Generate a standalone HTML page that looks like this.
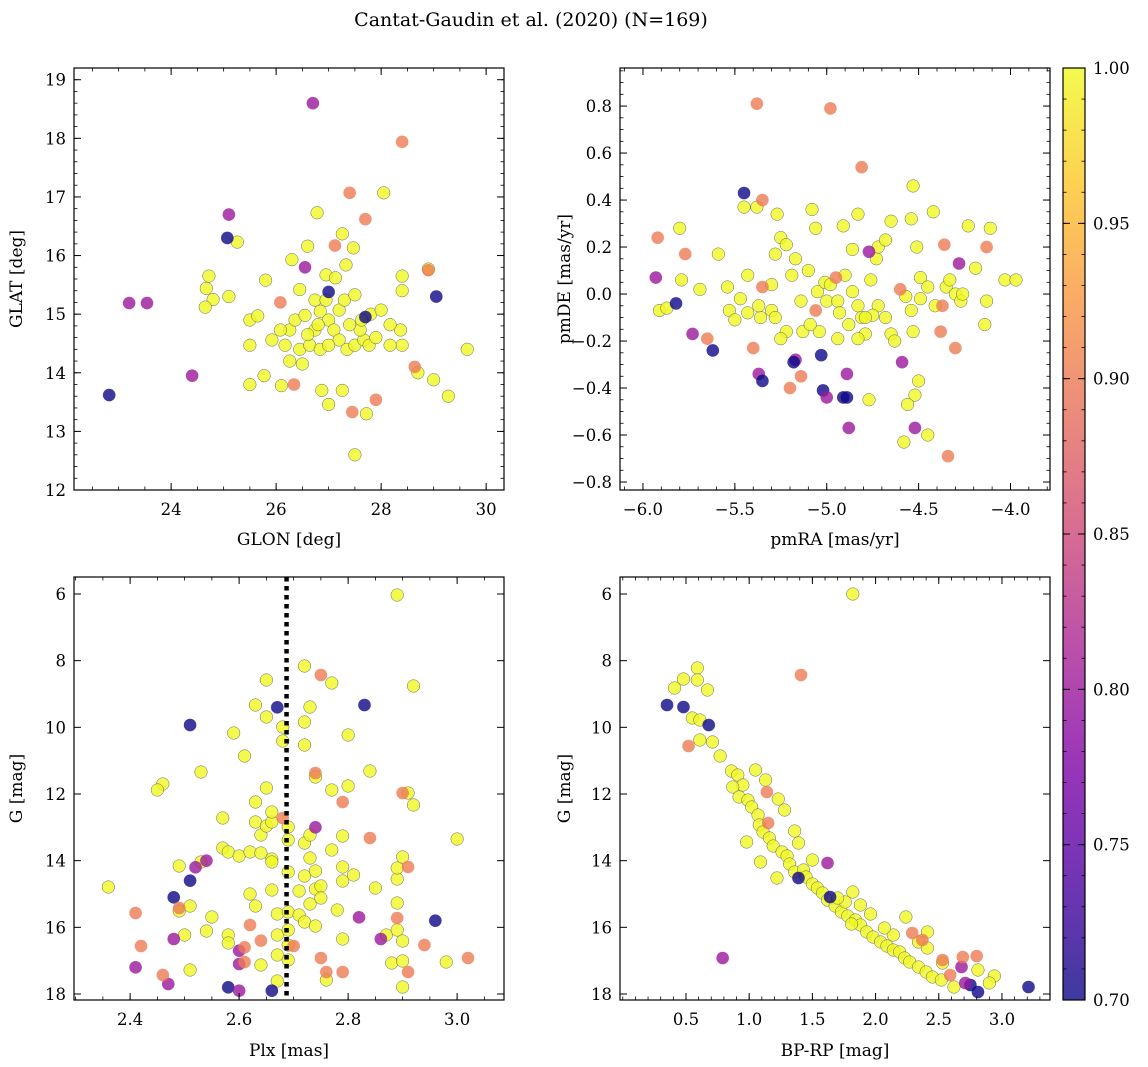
<!DOCTYPE html>
<html><head><meta charset="utf-8"><style>
body{margin:0;background:#fff;}
svg{display:block;font-family:"DejaVu Serif","Liberation Serif",serif;}
</style></head><body>
<svg id="chart" width="1148" height="1067" viewBox="0 0 1148 1067" xmlns="http://www.w3.org/2000/svg">
<defs>
<linearGradient id="plasma" x1="0" y1="1" x2="0" y2="0">
<stop offset="0" stop-color="#0d0887"/><stop offset="0.125" stop-color="#4c02a1"/><stop offset="0.25" stop-color="#7e03a8"/><stop offset="0.375" stop-color="#a92395"/><stop offset="0.5" stop-color="#cc4778"/><stop offset="0.625" stop-color="#e66c5c"/><stop offset="0.75" stop-color="#f89540"/><stop offset="0.875" stop-color="#fdc527"/><stop offset="1" stop-color="#f0f921"/>
</linearGradient>
</defs>
<text x="531" y="26" font-size="19" text-anchor="middle">Cantat-Gaudin et al. (2020) (N=169)</text>
</svg>
<script>
// Panel 1: GLON / GLAT
const glonMember=[29.64,29.28,29.0,28.7,27.5,27.72,27,27.26,26.87,26.1,25.5,25.77,25.5,25.5,25.65,25.8,25.26,24.72,24.67,24.8,25.1,24.65,26.3,26.6,26.78,28.05,28.4,28.37,28.17,27.8,28.4,28.4,28.9,27.33,27.26,27.47,26.17,26.26,26.5,26.45,26.26,26.36,26.55,26.74,26.84,27,27.1,27.2,27.35,27.5,27.67,27.77,27.6,27.4,27.2,26.95,26.74,26.64,26.84,27,26.8,26.6,27.3,27.5,27.63,28,28.17,26.45,26.08,25.92,26.95,27.13,27.9];
const glatMember=[14.4,13.6,13.88,14.0,12.6,13.3,13.46,13.7,13.7,13.78,13.8,13.95,14.47,14.9,14.97,15.58,16.23,15.65,15.44,15.25,15.3,15.12,15.93,16.16,16.73,17.07,14.47,14.73,14.82,15.0,15.4,15.65,15.77,15.84,16.37,16.13,14.47,14.2,14.15,14.4,14.73,14.9,14.98,15.24,15.05,14.9,14.73,14.56,14.4,14.47,14.56,14.47,14.73,14.82,15.07,15.24,14.73,14.47,14.4,14.47,14.82,14.65,15.24,15.33,14.9,15.07,14.47,15.42,14.73,14.56,15.67,15.62,14.6];
const glonOther=[22.82,23.2,23.54,24.4,25.07,25.1,26.7,28.4,27.4,27.7,29.05,28.64,27.45,26.34,26.08,26.55,27.12,27.7,27.0,28.9,27.9];
const glatOther=[13.62,15.19,15.19,13.95,16.3,16.7,18.6,17.94,17.07,16.62,15.3,14.1,13.33,13.8,15.2,15.8,16.17,14.95,15.38,15.75,13.54];
const probOther1=[0.7,0.8,0.8,0.8,0.7,0.8,0.8,0.9,0.9,0.9,0.7,0.9,0.9,0.9,0.9,0.8,0.9,0.7,0.7,0.9,0.9];

// Panel 2: pmRA / pmDE
const pmraMember=[-5.91,-5.87,-5.80,-5.79,-5.69,-5.59,-5.54,-5.47,-5.43,-5.45,-5.38,-5.53,-5.50,-5.43,-5.36,-5.30,-5.30,-5.28,-5.27,-5.25,-5.22,-5.19,-5.17,-5.14,-5.10,-5.08,-5.06,-5.05,-5.01,-5.00,-4.98,-4.94,-4.93,-4.90,-4.86,-4.86,-4.83,-4.81,-4.79,-4.76,-4.73,-4.72,-4.68,-4.65,-4.72,-4.68,-4.65,-4.63,-4.77,-4.75,-4.83,-4.91,-4.57,-4.54,-4.53,-4.51,-4.53,-4.54,-4.49,-4.49,-4.45,-4.41,-4.42,-4.35,-4.33,-4.30,-4.27,-4.26,-4.23,-4.19,-4.13,-4.14,-4.03,-3.97,-4.11,-4.52,-4.56,-4.58,-4.45,-4.50,-4.94,-5.04,-5.13,-5.22,-5.25,-5.28,-5.37,-5.09,-4.88,-4.83,-4.79];
const pmdeMember=[-0.07,-0.06,0.28,0.06,0.02,0.17,0.03,-0.02,0.08,0.37,0.37,-0.07,-0.11,-0.08,-0.10,-0.07,0.04,0.17,0.34,0.24,0.21,0.08,0.15,-0.03,0.10,0.36,0.28,0.01,0.05,-0.03,0.04,-0.03,-0.08,0.08,0.19,0.01,-0.05,-0.10,-0.17,0.06,0.15,0.20,0.23,0.31,-0.05,-0.10,-0.17,-0.20,-0.45,-0.09,0.34,0.29,-0.01,-0.07,-0.16,0.20,0.46,0.32,0.07,-0.02,0.03,-0.05,0.35,0.03,0.06,0.00,-0.03,0.00,0.29,0.11,-0.03,-0.13,0.06,0.06,0.28,-0.43,-0.47,-0.63,-0.60,-0.37,-0.19,-0.16,-0.16,-0.16,-0.19,-0.10,-0.05,-0.13,-0.13,-0.19,-0.10];
const pmraOther=[-5.38,-4.98,-4.81,-5.45,-5.92,-5.93,-5.77,-5.82,-5.65,-5.62,-5.73,-5.40,-5.35,-5.37,-5.35,-5.35,-5.17,-5.18,-5.14,-5.20,-5.03,-5.02,-5.00,-4.91,-4.89,-4.89,-4.88,-4.77,-5.06,-4.95,-4.36,-4.34,-4.30,-4.38,-4.37,-4.13,-4.28,-4.59,-4.52,-4.60];
const pmdeOther=[0.81,0.79,0.54,0.43,0.24,0.07,0.17,-0.04,-0.19,-0.24,-0.17,-0.23,0.03,-0.34,-0.37,0.40,-0.28,-0.29,-0.35,-0.40,-0.26,-0.41,-0.44,-0.44,-0.44,-0.34,-0.57,0.18,-0.07,0.07,0.21,-0.69,-0.23,-0.16,-0.05,0.20,0.13,-0.29,-0.57,0.02];
const probOther2=[0.9,0.9,0.9,0.7,0.9,0.8,0.9,0.7,0.9,0.7,0.8,0.9,0.9,0.8,0.7,0.9,0.8,0.7,0.9,0.9,0.7,0.7,0.8,0.7,0.7,0.8,0.8,0.8,0.9,0.9,0.9,0.9,0.9,0.9,0.9,0.9,0.8,0.8,0.8,0.9];

// Panel 3: Plx / G
const plxMember=[2.36,2.46,2.45,2.49,2.49,2.5,2.51,2.51,2.53,2.54,2.53,2.55,2.57,2.57,2.58,2.58,2.58,2.59,2.61,2.6,2.62,2.62,2.63,2.63,2.63,2.63,2.64,2.64,2.64,2.65,2.65,2.65,2.65,2.66,2.66,2.66,2.66,2.66,2.67,2.67,2.67,2.67,2.68,2.68,2.69,2.69,2.69,2.69,2.69,2.69,2.69,2.71,2.72,2.74,2.71,2.72,2.72,2.73,2.73,2.72,2.72,2.72,2.73,2.74,2.74,2.74,2.75,2.75,2.73,2.76,2.77,2.77,2.77,2.78,2.79,2.79,2.79,2.81,2.8,2.8,2.79,2.84,2.85,2.88,2.87,2.89,2.89,2.89,2.89,2.89,2.9,2.9,2.9,2.9,2.91,2.92,2.92,2.98,3.0];
const gMember3=[14.79,11.7,11.88,14.16,15.51,16.23,17.28,15.36,14.04,16.11,11.34,15.69,12.72,13.62,16.23,13.74,16.47,10.17,10.86,13.86,13.74,15.0,9.33,12.24,12.84,15.36,17.13,13.77,13.23,8.58,11.82,12.96,9.69,12.84,12.54,13.95,14.04,14.88,15.6,16.23,16.83,17.61,9.99,10.41,12.99,13.38,14.34,15.54,16.08,16.53,16.98,15.63,15.84,15.96,14.91,14.46,13.47,13.92,13.23,10.53,8.16,9.84,9.39,11.49,14.31,14.85,14.76,15.12,15.3,17.58,8.67,11.88,13.68,15.48,14.19,14.61,16.35,14.43,10.23,11.76,13.26,11.31,14.82,17.07,16.23,6.03,16.08,15.27,14.55,14.22,17.79,16.41,17.01,13.89,11.97,12.33,8.76,17.04,13.35];
const plxOther=[2.51,2.48,2.58,2.66,2.67,2.83,2.96,2.51,2.41,2.48,2.52,2.54,2.6,2.6,2.6,2.74,2.82,2.86,2.47,2.41,2.42,2.46,2.49,2.61,2.61,2.62,2.64,2.68,2.75,2.79,2.74,2.84,2.9,2.91,2.89,2.94,2.91,3.02,2.76,2.75,2.70,2.79];
const gOther3=[9.93,15.1,17.8,17.9,9.4,9.33,15.8,14.6,17.2,16.35,14.2,14.0,16.7,17.1,17.9,13.0,15.7,16.35,17.7,15.57,16.56,17.43,15.42,17.04,16.6,15.93,16.4,12.72,8.43,12.24,11.37,13.32,11.97,14.19,15.72,16.53,17.34,16.92,17.34,16.92,16.56,17.34];
const probOther3=[0.7,0.7,0.7,0.7,0.7,0.7,0.7,0.7,0.8,0.8,0.8,0.8,0.8,0.8,0.8,0.8,0.8,0.8,0.8,0.9,0.9,0.9,0.9,0.9,0.9,0.9,0.9,0.9,0.9,0.9,0.9,0.9,0.9,0.9,0.9,0.9,0.9,0.9,0.9,0.9,0.9,0.9];
const plxCut=2.687;

// Panel 4: BP-RP / G
const bprpMember=[1.82,0.41,0.48,0.59,0.59,0.67,0.55,0.61,0.71,0.77,0.61,0.86,0.91,0.95,0.87,0.92,0.99,1.02,1.07,1.08,1.11,1.16,1.19,1.26,1.3,0.98,1.09,1.32,1.36,1.43,1.45,1.5,1.54,1.58,1.62,1.68,1.73,1.78,1.84,1.88,1.93,1.98,2.04,2.09,2.14,2.19,2.23,2.27,2.34,2.4,2.45,2.52,2.62,2.94,2.9,1.22,1.5,1.36,1.39,1.28,1.23,1.13,1.05,1.96,2.24,2.41,2.34,2.41,2.14,1.82,1.76,1.7,1.88,1.81,2.53,2.81,2.07];
const gMember4=[6.0,8.82,8.55,8.22,8.58,8.88,9.72,9.78,10.44,10.86,10.38,11.31,11.43,11.73,11.79,12.09,12.18,12.39,12.63,12.93,13.14,13.32,13.56,13.74,13.86,13.44,14.04,14.1,14.34,14.28,14.49,14.7,14.82,14.97,15.18,15.36,15.54,15.66,15.78,15.93,16.14,16.29,16.44,16.56,16.68,16.74,16.92,17.04,17.19,17.34,17.49,17.58,17.79,17.46,17.67,14.52,13.98,13.11,13.47,12.48,12.15,11.58,11.28,15.6,15.69,16.14,16.44,16.62,16.23,14.94,15.24,15.12,15.33,15.9,17.07,17.28,16.02];
const bprpOther=[0.35,0.48,0.68,1.39,1.64,2.75,2.81,3.21,0.79,1.62,2.68,2.71,1.41,0.52,1.14,1.15,2.53,2.59,2.69,2.8,2.37,2.29];
const gOther4=[9.33,9.39,9.93,14.52,15.09,17.73,17.94,17.79,16.92,14.07,17.19,17.67,8.43,10.56,11.94,12.87,16.98,17.43,16.89,16.86,16.38,16.17];
const probOther4=[0.7,0.7,0.7,0.7,0.7,0.7,0.7,0.7,0.8,0.8,0.8,0.8,0.9,0.9,0.9,0.9,0.9,0.9,0.9,0.9,0.9,0.9];

const cbTicks=[0.70,0.75,0.80,0.85,0.90,0.95,1.00];

const NS="http://www.w3.org/2000/svg";
const svg=document.getElementById('chart');
function mk(tag,attrs,parent){const e=document.createElementNS(NS,tag);for(const k in attrs)e.setAttribute(k,attrs[k]);(parent||svg).appendChild(e);return e;}
const stops=[[13,8,135],[76,2,161],[126,3,168],[169,35,149],[204,71,120],[230,108,92],[248,149,64],[253,197,39],[240,249,33]];
function plasma(p){let t=(p-0.7)/0.3;t=Math.max(0,Math.min(1,t));const f=t*8,i=Math.min(7,Math.floor(f)),r=f-i;const a=stops[i],b=stops[i+1];return `rgb(${Math.round(a[0]+(b[0]-a[0])*r)},${Math.round(a[1]+(b[1]-a[1])*r)},${Math.round(a[2]+(b[2]-a[2])*r)})`;}
function fmt(v,d){return (v<0?'\u2212':'')+Math.abs(v).toFixed(d);}

function panel(o){
  const g=mk('g',{});
  
  
  const sx=v=>o.L+(v-o.x0)/(o.x1-o.x0)*(o.R-o.L);
  const sy=v=>o.B-(v-o.y0)/(o.y1-o.y0)*(o.B-o.T);
  const plot=mk('g',{},g);
  for(let i=0;i<o.mx.length;i++){
    const c=mk('circle',{cx:sx(o.mx[i]),cy:sy(o.my[i]),r:6.3,fill:plasma(1),'fill-opacity':0.8,stroke:'#666','stroke-width':0.5},plot);
    
    
  }
  for(let i=0;i<o.ox.length;i++){
    const c=mk('circle',{cx:sx(o.ox[i]),cy:sy(o.oy[i]),r:6.3,fill:plasma(o.op[i]),'fill-opacity':0.8,stroke:'none'},plot);
    
    
  }
  if(o.vline!==undefined){
    const l=mk('line',{x1:sx(o.vline),x2:sx(o.vline),y1:o.T,y2:o.B,stroke:'#000','stroke-width':4.5,'stroke-dasharray':'4.5,4.5'},g);
    
    
  }
  const fr=mk('rect',{x:o.L,y:o.T,width:o.R-o.L,height:o.B-o.T,fill:'none',stroke:'#000','stroke-width':1.2},g);
  
  
  const eps=1e-6;
  for(let v=o.xmin0;v<=o.x1+eps;v+=o.xmin){ if(v<o.x0-eps)continue; const X=sx(v);
    mk('line',{x1:X,x2:X,y1:o.B,y2:o.B-3.5,stroke:'#000','stroke-width':0.8},g); mk('line',{x1:X,x2:X,y1:o.T,y2:o.T+3.5,stroke:'#000','stroke-width':0.8},g);}
  for(let v=o.ymin0;v<=o.y1+eps;v+=o.ymin){ if(v<o.y0-eps)continue; const Y=sy(v);
    mk('line',{x1:o.L,x2:o.L+3.5,y1:Y,y2:Y,stroke:'#000','stroke-width':0.8},g); mk('line',{x1:o.R,x2:o.R-3.5,y1:Y,y2:Y,stroke:'#000','stroke-width':0.8},g);}
  o.xt.forEach(v=>{const X=sx(v);
    mk('line',{x1:X,x2:X,y1:o.B,y2:o.B-7,stroke:'#000','stroke-width':1},g); mk('line',{x1:X,x2:X,y1:o.T,y2:o.T+7,stroke:'#000','stroke-width':1},g);
    const t=mk('text',{x:X,y:o.B+25,'font-size':16.5,'text-anchor':'middle'},g); t.textContent=fmt(v,o.xd);
     });
  o.yt.forEach(v=>{const Y=sy(v);
    mk('line',{x1:o.L,x2:o.L+7,y1:Y,y2:Y,stroke:'#000','stroke-width':1},g); mk('line',{x1:o.R,x2:o.R-7,y1:Y,y2:Y,stroke:'#000','stroke-width':1},g);
    const t=mk('text',{x:o.L-8,y:Y+6,'font-size':16.5,'text-anchor':'end'},g); t.textContent=fmt(v,o.yd);
     });
  const xl=mk('text',{x:(o.L+o.R)/2,y:o.xly,'font-size':17,'text-anchor':'middle'},g); xl.textContent=o.xlab;
   
  const ym=(o.T+o.B)/2;
  const yl=mk('text',{x:o.ylx,y:ym,'font-size':17,'text-anchor':'middle',transform:`rotate(-90 ${o.ylx} ${ym})`},g); yl.textContent=o.ylab;
   
}
const range=(a,b,s)=>{const r=[];for(let v=a;v<=b+1e-6;v+=s)r.push(+v.toFixed(4));return r;};
panel({name:'glon-glat-panel',L:74,R:504,T:68,B:490,x0:22.15,x1:30.34,y0:12,y1:19.2,xt:[24,26,28,30],yt:range(12,19,1),xd:0,yd:0,xmin0:22.5,xmin:0.5,ymin0:12,ymin:0.2,
  mx:glonMember,my:glatMember,ox:glonOther,oy:glatOther,op:probOther1,xlab:'GLON [deg]',ylab:'GLAT [deg]',xly:545,ylx:22});
panel({name:'proper-motion-panel',L:620,R:1050,T:68,B:490,x0:-6.125,x1:-3.785,y0:-0.834,y1:0.962,xt:range(-6,-4,0.5),yt:range(-0.8,0.8,0.2),xd:1,yd:1,xmin0:-6.1,xmin:0.1,ymin0:-0.8,ymin:0.05,
  mx:pmraMember,my:pmdeMember,ox:pmraOther,oy:pmdeOther,op:probOther2,xlab:'pmRA [mas/yr]',ylab:'pmDE [mas/yr]',xly:545,ylx:570});
panel({name:'parallax-panel',L:74,R:504,T:577,B:1000,x0:2.297,x1:3.086,y0:18.18,y1:5.49,xt:range(2.4,3.0,0.2),yt:range(6,18,2),xd:1,yd:0,xmin0:2.3,xmin:0.05,ymin0:6,ymin:0.5,
  mx:plxMember,my:gMember3,ox:plxOther,oy:gOther3,op:probOther3,vline:plxCut,xlab:'Plx [mas]',ylab:'G [mag]',xly:1056,ylx:22});
panel({name:'cmd-panel',L:620,R:1050,T:577,B:1000,x0:-0.022,x1:3.38,y0:18.18,y1:5.49,xt:range(0.5,3.0,0.5),yt:range(6,18,2),xd:1,yd:0,xmin0:0,xmin:0.1,ymin0:6,ymin:0.5,
  mx:bprpMember,my:gMember4,ox:bprpOther,oy:gOther4,op:probOther4,xlab:'BP-RP [mag]',ylab:'G [mag]',xly:1056,ylx:570});

const cb=mk('g',{});


const cT=68,cB=1000,cL=1063,cR=1085;
mk('rect',{x:cL,y:cT,width:cR-cL,height:cB-cT,fill:'url(#plasma)','fill-opacity':0.8},cb);
mk('rect',{x:cL,y:cT,width:cR-cL,height:cB-cT,fill:'none',stroke:'#000','stroke-width':1.2},cb);
const cy=v=>cB-(v-0.7)/0.3*(cB-cT);
for(let v=0.70;v<=1.0001;v+=0.01){const Y=cy(v);mk('line',{x1:cR,x2:cR-3.5,y1:Y,y2:Y,stroke:'#000','stroke-width':0.8},cb);mk('line',{x1:cL,x2:cL+3.5,y1:Y,y2:Y,stroke:'#000','stroke-width':0.8},cb);}
cbTicks.forEach(v=>{const Y=cy(v);mk('line',{x1:cR,x2:cR-7,y1:Y,y2:Y,stroke:'#000','stroke-width':1},cb);mk('line',{x1:cL,x2:cL+7,y1:Y,y2:Y,stroke:'#000','stroke-width':1},cb);
  const t=mk('text',{x:cR+8,y:Y+6,'font-size':16.5},cb);t.textContent=v.toFixed(2);
  });
</script>
</body></html>
